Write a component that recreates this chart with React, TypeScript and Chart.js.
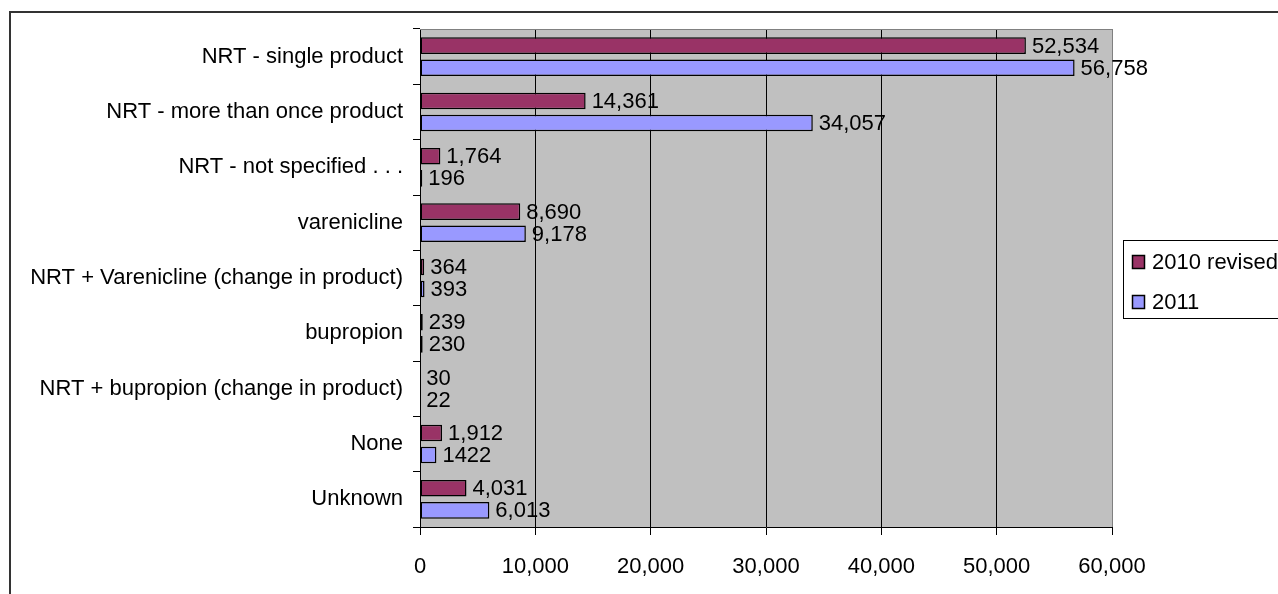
import React, { useEffect, useRef } from "react";
import { Chart, registerables } from "chart.js";

Chart.register(...registerables);

// Categories, top to bottom
const categories: string[] = [
  "NRT - single product",
  "NRT - more than once product",
  "NRT - not specified . . .",
  "varenicline",
  "NRT + Varenicline (change in product)",
  "bupropion",
  "NRT + bupropion (change in product)",
  "None",
  "Unknown",
];

const seriesNames: string[] = ["2010 revised", "2011"];
const seriesColors: string[] = ["#993366", "#9999FF"];

// Printed value labels; bar lengths are parsed from these same strings
const labels2010: string[] = ["52,534", "14,361", "1,764", "8,690", "364", "239", "30", "1,912", "4,031"];
const labels2011: string[] = ["56,758", "34,057", "196", "9,178", "393", "230", "22", "1422", "6,013"];

const xTickValues: number[] = [0, 10000, 20000, 30000, 40000, 50000, 60000];
const xTickLabels: string[] = ["0", "10,000", "20,000", "30,000", "40,000", "50,000", "60,000"];

const toNumber = (s: string) => Number(s.replace(/,/g, ""));
const values2010 = labels2010.map(toNumber);
const values2011 = labels2011.map(toNumber);
const valueLabels: string[][] = [labels2010, labels2011];

const FONT_FAMILY = "'Liberation Sans', Arial, Helvetica, sans-serif";
const FONT_SIZE = 22;
const W = 1278;
const H = 594;

const plotBackground = {
  id: "plotBackground",
  beforeDraw(chart: any) {
    const { ctx, chartArea } = chart;
    ctx.save();
    ctx.fillStyle = "#C0C0C0";
    ctx.fillRect(chartArea.left, chartArea.top, chartArea.right - chartArea.left, chartArea.bottom - chartArea.top);
    ctx.restore();
  },
  beforeDatasetsDraw(chart: any) {
    const { ctx, chartArea } = chart;
    ctx.save();
    ctx.strokeStyle = "#808080";
    ctx.lineWidth = 1;
    ctx.beginPath();
    const t = Math.round(chartArea.top) + 0.5;
    ctx.moveTo(chartArea.left, t);
    ctx.lineTo(chartArea.right, t);
    ctx.stroke();
    ctx.restore();
  },
};

const barValueLabels = {
  id: "barValueLabels",
  afterDatasetsDraw(chart: any) {
    const { ctx } = chart;
    ctx.save();
    ctx.font = `${FONT_SIZE}px ${FONT_FAMILY}`;
    ctx.fillStyle = "#000";
    ctx.textAlign = "left";
    ctx.textBaseline = "middle";
    chart.data.datasets.forEach((_ds: any, di: number) => {
      const meta = chart.getDatasetMeta(di);
      meta.data.forEach((bar: any, i: number) => {
        ctx.fillText(valueLabels[di][i], bar.x + 6, bar.y + 1);
      });
    });
    ctx.restore();
  },
};

const frameAndLegend = {
  id: "frameAndLegend",
  afterDraw(chart: any) {
    const { ctx } = chart;
    ctx.save();
    // outer chart frame
    ctx.strokeStyle = "#333";
    ctx.lineWidth = 2;
    ctx.beginPath();
    ctx.moveTo(10, H + 2);
    ctx.lineTo(10, 12);
    ctx.lineTo(W + 2, 12);
    ctx.stroke();

    // legend box
    const lx = 1123.5;
    const ly = 240.5;
    ctx.lineWidth = 1;
    ctx.strokeStyle = "#000";
    ctx.fillStyle = "#fff";
    ctx.fillRect(lx, ly, 200, 78);
    ctx.strokeRect(lx, ly, 200, 78);

    ctx.font = `${FONT_SIZE}px ${FONT_FAMILY}`;
    ctx.textAlign = "left";
    ctx.textBaseline = "middle";
    chart.data.datasets.forEach((ds: any, i: number) => {
      const cy = 262 + i * 40;
      ctx.fillStyle = ds.backgroundColor;
      ctx.fillRect(1132.5, cy - 6.5, 12, 13);
      ctx.strokeStyle = "#000";
      ctx.lineWidth = 1.5;
      ctx.strokeRect(1132.5, cy - 6.5, 12, 13);
      ctx.fillStyle = "#000";
      ctx.fillText(ds.label, 1152, cy + 1);
    });
    ctx.restore();
  },
};

export default function App() {
  const canvasRef = useRef<HTMLCanvasElement | null>(null);

  useEffect(() => {
    if (!canvasRef.current) return;
    const font = { family: FONT_FAMILY, size: FONT_SIZE };
    const chart = new Chart(canvasRef.current, {
      type: "bar",
      data: {
        labels: categories,
        datasets: [
          {
            label: seriesNames[0],
            data: values2010,
            backgroundColor: seriesColors[0],
            borderColor: "#000",
            borderWidth: 1.5,
            borderSkipped: false,
            barPercentage: 0.75,
            categoryPercentage: 0.8,
          },
          {
            label: seriesNames[1],
            data: values2011,
            backgroundColor: seriesColors[1],
            borderColor: "#000",
            borderWidth: 1.5,
            borderSkipped: false,
            barPercentage: 0.75,
            categoryPercentage: 0.8,
          },
        ],
      },
      options: {
        indexAxis: "y",
        responsive: false,
        animation: false,
        devicePixelRatio: 1,
        layout: { padding: { left: 0, top: 29, right: W - 1112, bottom: 0 } },
        plugins: {
          legend: { display: false },
          tooltip: { enabled: false },
          title: { display: false },
        },
        scales: {
          x: {
            type: "linear",
            position: "bottom",
            min: 0,
            max: 60000,
            afterBuildTicks: (scale: any) => {
              scale.ticks = xTickValues.map((v) => ({ value: v }));
            },
            afterFit: (scale: any) => {
              scale.height = H - 527;
            },
            ticks: {
              font,
              color: "#000",
              padding: 19,
              maxRotation: 0,
              callback: (_v: any, i: number) => xTickLabels[i],
            },
            grid: {
              color: (ctx: any) => (ctx.tick && ctx.tick.value === 60000 ? "#808080" : "#000"),
              lineWidth: 1,
              drawTicks: true,
              tickLength: 8,
              tickColor: "#000",
            },
            border: { color: "#000", width: 1 },
          },
          y: {
            type: "category",
            offset: true,
            afterFit: (scale: any) => {
              scale.width = 420;
            },
            ticks: { font, color: "#000", padding: 10, autoSkip: false },
            grid: {
              offset: true,
              drawOnChartArea: false,
              drawTicks: true,
              tickLength: 7,
              color: "#000",
            },
            border: { color: "#000", width: 1 },
          },
        },
      } as any,
      plugins: [plotBackground, barValueLabels, frameAndLegend],
    });
    return () => chart.destroy();
  }, []);

  return (
    <div style={{ position: "fixed", left: 0, top: 0, width: W, height: H, overflow: "hidden", background: "#fff" }}>
      <canvas ref={canvasRef} width={W} height={H} style={{ display: "block", width: W, height: H }} />
    </div>
  );
}
